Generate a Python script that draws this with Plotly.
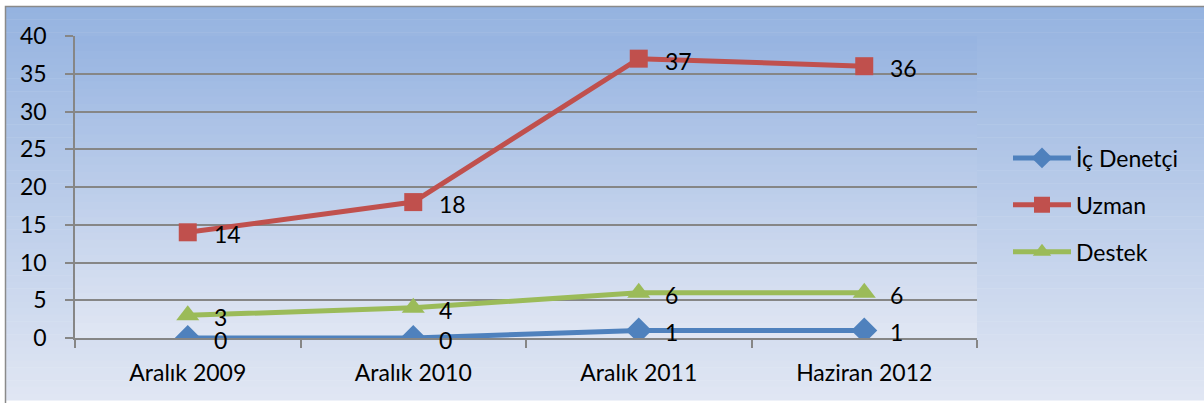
import plotly.graph_objects as go

# data
categories = ["Aralık 2009", "Aralık 2010", "Aralık 2011", "Haziran 2012"]
ic_denetci = [0, 0, 1, 1]
uzman = [14, 18, 37, 36]
destek = [3, 4, 6, 6]

W, H = 1204, 403
L, R, T, B = 75, 977, 36, 338   # plot area in pixels
PW, PH = R - L, B - T


def px(x):
    return (x - L) / PW


def py(y):
    return (B - y) / PH


def mix(c1, c2, t):
    return "rgb(%d,%d,%d)" % tuple(round(a + (b - a) * t) for a, b in zip(c1, c2))


shapes = []
# outer gradient
top_c, bot_c = (149, 179, 224), (224, 230, 243)
n = 60
for i in range(n):
    y0 = 6 + (400 - 6) * i / n
    y1 = 6 + (400 - 6) * (i + 1) / n + 0.5
    shapes.append(dict(type="rect", xref="paper", yref="paper", layer="below",
                       x0=px(5), x1=px(1210), y0=py(y0), y1=py(y1),
                       fillcolor=mix(top_c, bot_c, i / (n - 1)), line_width=0))
# plot area gradient
top_p, bot_p = (151, 180, 225), (224, 230, 243)
n = 40
for i in range(n):
    y0 = T + PH * i / n
    y1 = T + PH * (i + 1) / n + 0.5
    shapes.append(dict(type="rect", xref="paper", yref="paper", layer="below",
                       x0=0, x1=1, y0=py(y0), y1=py(y1),
                       fillcolor=mix(top_p, bot_p, i / (n - 1)), line_width=0))
# border
shapes.append(dict(type="rect", xref="paper", yref="paper", layer="below",
                   x0=px(5.5), x1=px(1215), y0=py(6.5), y1=py(420),
                   line=dict(color="#8a8a8a", width=1.5), fillcolor="rgba(0,0,0,0)"))

fig = go.Figure()
series = [
    ("İç Denetçi", ic_denetci, "#4f81bd", "diamond", 20),
    ("Uzman", uzman, "#c0504d", "square", 18),
    ("Destek", destek, "#9bbb59", "triangle-up", 20),
]
annotations = []
for i, (name, vals, color, sym, size) in enumerate(series):
    fig.add_trace(go.Scatter(
        x=categories, y=vals, name=name, mode="lines+markers",
        line=dict(color=color, width=5),
        marker=dict(symbol=sym, size=size, color=color),
        legendgroup=name,
    ))
    for c, v in zip(categories, vals):
        annotations.append(dict(x=c, y=v, text=str(v), showarrow=False,
                                xanchor="left", yanchor="middle",
                                xshift=24, yshift=-2,
                                font=dict(size=23, color="black")))

font = "Lato, Carlito, Calibri, sans-serif"
fig.update_layout(
    width=W, height=H,
    margin=dict(l=L, r=W - R, t=T, b=H - B),
    paper_bgcolor="rgba(0,0,0,0)", plot_bgcolor="rgba(0,0,0,0)",
    font=dict(family=font, size=23, color="black"),
    shapes=shapes,
    annotations=annotations,
    showlegend=True,
    legend=dict(x=px(1008), y=py(205), xanchor="left", yanchor="middle",
                bgcolor="rgba(0,0,0,0)", tracegroupgap=14, itemwidth=58,
                font=dict(size=23, color="black")),
    xaxis=dict(range=[-0.5, 3.5], showline=True, linecolor="#868686", linewidth=1.5,
               ticks="outside", ticklen=8, tickcolor="#868686", tickwidth=1.5,
               tickson="boundaries", showgrid=False, ticklabelstandoff=14),
    yaxis=dict(range=[0, 40], dtick=5, showline=True, linecolor="#868686",
               linewidth=1.5, ticks="outside", ticklen=8, tickcolor="#868686",
               tickwidth=1.5, showgrid=True, gridcolor="#868686", gridwidth=1.5,
               zeroline=False, ticklabelstandoff=14),
)

fig.write_html("out.html", config={"displayModeBar": False},
               post_script="document.body.style.margin='0';")
